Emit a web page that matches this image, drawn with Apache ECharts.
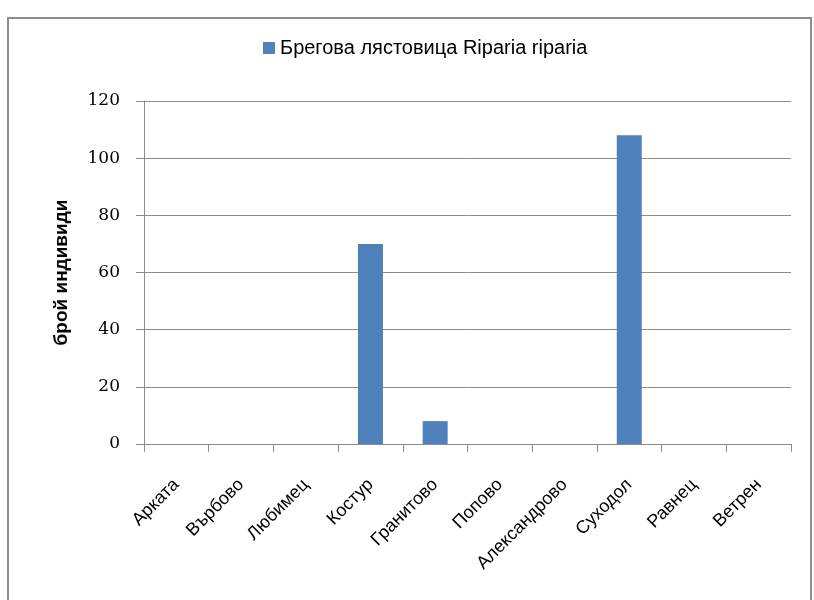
<!DOCTYPE html>
<html><head><meta charset="utf-8">
<script src="https://cdn.jsdelivr.net/npm/echarts@6/dist/echarts.min.js"></script>
<style>html,body{margin:0;padding:0;background:#fff}#c{width:814px;height:600px}</style>
</head><body><div id="c"></div>
<script>
const categories = ['Арката','Върбово','Любимец','Костур','Гранитово','Попово','Александрово','Суходол','Равнец','Ветрен'];
const values = [0,0,0,70,8,0,0,108,0,0];
const seriesName = 'Брегова лястовица Riparia riparia';
const yAxisName = 'брой индивиди';

const chart = echarts.init(document.getElementById('c'), null, {renderer:'canvas'});
chart.setOption({
  animation:false,
  backgroundColor:'#fff',
  graphic:[{type:'rect',shape:{x:8,y:18,width:803,height:600},style:{fill:'none',stroke:'#8c8c8c',lineWidth:2},z:-1}],
  legend:{
    data:[seriesName], top:38, left:263, padding:0, itemWidth:12, itemHeight:12, itemGap:4,
    icon:'rect',
    textStyle:{fontFamily:'Liberation Sans, sans-serif',fontSize:20,color:'#000'}
  },
  grid:{left:144,right:23,top:101,bottom:156,containLabel:false},
  xAxis:{
    type:'category', data:categories, boundaryGap:true,
    axisLine:{lineStyle:{color:'#8c8c8c',width:1}},
    axisTick:{show:true,length:8,lineStyle:{color:'#8c8c8c'}},
    axisLabel:{rotate:45,margin:38,color:'#000',fontSize:18,fontFamily:'Liberation Sans, sans-serif',interval:0}
  },
  yAxis:{
    type:'value', min:0, max:120, interval:20,
    name:yAxisName, nameLocation:'middle', nameGap:73,
    nameTextStyle:{fontFamily:'Liberation Sans, sans-serif',fontWeight:'bold',fontSize:19,color:'#000'},
    axisLine:{show:true,lineStyle:{color:'#8c8c8c'}},
    axisTick:{show:true,length:8,lineStyle:{color:'#8c8c8c'}},
    splitLine:{show:true,lineStyle:{color:'#8c8c8c',width:1}},
    axisLabel:{color:'#000',fontSize:17,fontFamily:'DejaVu Serif, Liberation Serif, serif',margin:24}
  },
  series:[{name:seriesName,type:'bar',data:values,barWidth:25,itemStyle:{color:'#4F81BD'}}]
});
</script></body></html>
